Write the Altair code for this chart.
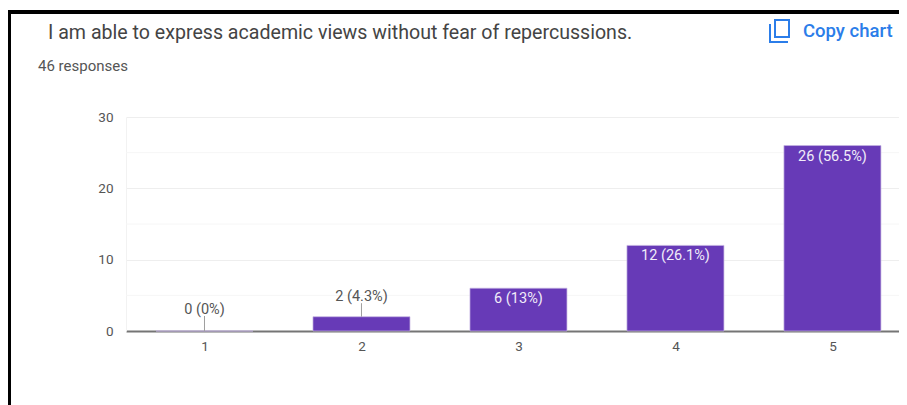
import altair as alt
import pandas as pd

categories = [1, 2, 3, 4, 5]
counts = [0, 2, 6, 12, 26]
labels = ["0 (0%)", "2 (4.3%)", "6 (13%)", "12 (26.1%)", "26 (56.5%)"]
major_ticks = [0, 10, 20, 30]
minor_ticks = [5, 15, 25]
outside_cats = [1, 2]
outside_vals = [0, 2]
outside_tops = [2.1, 3.9]
outside_labels = ["0 (0%)", "2 (4.3%)"]
inside_cats = [3, 4, 5]
inside_vals = [6, 12, 26]
inside_labels = ["6 (13%)", "12 (26.1%)", "26 (56.5%)"]

TITLE = "I am able to express academic views without fear of repercussions."
SUBTITLE = "46 responses"
COPY = "Copy chart"
FONT = "Roboto"

x_scale = alt.Scale(domain=[0.5, 5.424], nice=False, zero=False, padding=0)
y_scale = alt.Scale(domain=[0, 30], nice=False)

bars_df = pd.DataFrame({"cat": categories, "n": counts, "label": labels})
out_df = pd.DataFrame({"cat": outside_cats, "v": outside_vals, "top": outside_tops, "label": outside_labels})
in_df = pd.DataFrame({"cat": inside_cats, "v": inside_vals, "label": inside_labels})

x_axis = alt.Axis(
    values=categories, format="d", title=None, grid=False, ticks=False, domain=True,
    domainColor="#757575", domainWidth=2, labelFont=FONT, labelFontSize=13.5,
    labelColor="#555555", labelPadding=8, labelFlush=False)
y_axis = alt.Axis(
    values=major_ticks, title=None, grid=True, gridColor="#eeeeee", gridWidth=1,
    ticks=False, domain=True, domainColor="#f2f2f2", labelFont=FONT, labelFontSize=13.5,
    labelColor="#555555", labelPadding=13)


def X(f="cat:Q"):
    return alt.X(f, scale=x_scale, axis=x_axis)


def Y(f):
    return alt.Y(f, scale=y_scale, axis=y_axis)


minor = alt.Chart(pd.DataFrame({"m": minor_ticks})).mark_rule(color="#f6f6f6", strokeWidth=1).encode(y=Y("m:Q"))

bars = alt.Chart(bars_df).mark_bar(size=97, color="#673ab7", stroke="#c5b5e3", strokeWidth=0.7).encode(
    x=X(), y=Y("n:Q"), tooltip=["cat:Q", "n:Q"])

leaders = alt.Chart(out_df).mark_rule(color="#9e9e9e", strokeWidth=1).encode(
    x=X(), y=Y("v:Q"), y2="top:Q")

out_text = alt.Chart(out_df).mark_text(
    font=FONT, fontSize=14.5, color="#555555", baseline="bottom", dy=1).encode(
    x=X(), y=Y("top:Q"), text="label:N")

in_text = alt.Chart(in_df).mark_text(
    font=FONT, fontSize=14.5, color="#f1ecf9", baseline="top", dy=4).encode(
    x=X(), y=Y("v:Q"), text="label:N")


def label(text, px, py, size, color, weight="normal"):
    return alt.Chart(pd.DataFrame({"t": [text]})).mark_text(
        font=FONT, fontSize=size, color=color, align="left", baseline="alphabetic",
        fontWeight=weight, clip=False).encode(
        x=alt.value(px - 126), y=alt.value(py - 117), text="t:N")


def line(x1, y1, x2, y2, color, w):
    return alt.Chart(pd.DataFrame({"a": [0]})).mark_rule(color=color, strokeWidth=w, clip=False).encode(
        x=alt.value(x1 - 126), x2=alt.value(x2 - 126), y=alt.value(y1 - 117), y2=alt.value(y2 - 117))


frame = [line(7, 12, 907, 12, "#000000", 4), line(9, 12, 9, 405, "#000000", 4)]
BLUE = "#2b7de9"
icon = [
    line(775, 20, 789, 20, BLUE, 2), line(775, 37, 789, 37, BLUE, 2),
    line(775, 19, 775, 38, BLUE, 2), line(789, 19, 789, 38, BLUE, 2),
    line(770, 24, 770, 43, BLUE, 2), line(769, 42, 788, 42, BLUE, 2),
]

chart = alt.layer(
    minor, bars, leaders, out_text, in_text,
    label(TITLE, 48, 39, 19.6, "#444444"),
    label(SUBTITLE, 38, 71, 15, "#555555"),
    label(COPY, 803, 37, 18.5, BLUE, 500),
    *frame, *icon,
).properties(
    width=773, height=214,
    padding={"left": 118, "top": 109, "right": 0, "bottom": 74},
    autosize=alt.AutoSizeParams(type="none"),
    background="#ffffff",
).configure_view(stroke=None)

chart.save("out.html", embed_options={"renderer": "svg", "actions": False})
